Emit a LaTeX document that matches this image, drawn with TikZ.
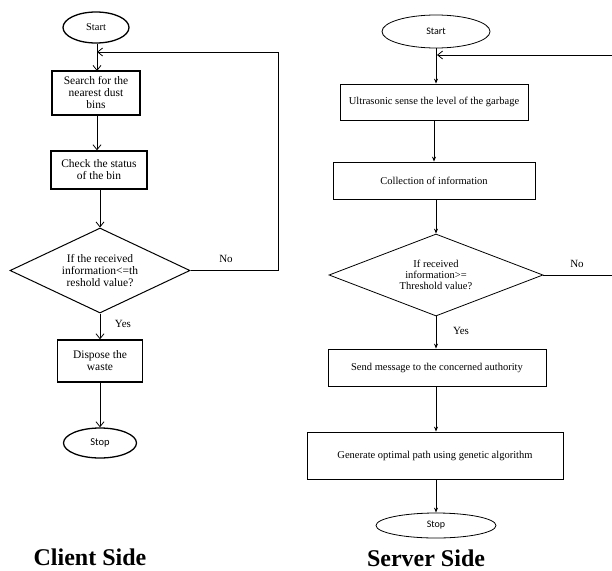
\documentclass[tikz,border=0pt]{standalone}
\usepackage{fontspec}
\setmainfont{Liberation Serif}
\newfontfamily\calib{Carlito}
\usetikzlibrary{shapes.geometric,arrows.meta}
\begin{document}
\begin{tikzpicture}[x=1pt,y=-1pt,
  cbox/.style={draw,line width=1.3pt,rectangle,align=center,inner sep=1pt,font=\fontsize{11.5}{12}\selectfont},
  cterm/.style={draw,line width=1.3pt,ellipse,inner sep=0pt},
  cdia/.style={draw,line width=1pt,diamond,aspect=2.1,inner sep=0pt,align=center,font=\fontsize{11.5}{12}\selectfont},
  sbox/.style={draw,line width=0.8pt,rectangle,align=center,inner sep=1pt,font=\fontsize{10.5}{11}\selectfont},
  sterm/.style={draw,line width=0.8pt,ellipse,inner sep=0pt,font=\calib\fontsize{10}{11}\selectfont},
  sdia/.style={draw,line width=0.8pt,diamond,aspect=2.6,inner sep=0pt,align=center,font=\fontsize{10.5}{11}\selectfont},
  carr/.style={line width=0.8pt,-{Straight Barb[length=5pt,width=8pt]}},
  sarr/.style={line width=1pt,-{Stealth[length=5pt,width=4pt]}},
  lbl/.style={font=\fontsize{11}{12}\selectfont},
  title/.style={font=\bfseries\fontsize{24}{26}\selectfont}]
\useasboundingbox (0,0) rectangle (612,570);

% ---------- Client side ----------
\node[cterm,minimum width=66pt,minimum height=31pt,font=\fontsize{10.5}{11}\selectfont] (cstart) at (96,27.5) {Start};
\node[cbox,minimum width=88pt,minimum height=44pt] (csearch) at (96,93) {Search for the\\nearest dust\\bins};
\node[cbox,minimum width=96pt,minimum height=38pt] (ccheck) at (99,170) {Check the status\\of the bin};
\node[cdia,minimum width=180pt,minimum height=85pt] (cdec) at (100,270.5) {If the received\\information<=th\\reshold value?};
\node[cbox,minimum width=85pt,minimum height=42pt] (cdisp) at (100,361) {Dispose the\\waste};
\node[cterm,minimum width=73pt,minimum height=30pt,font=\calib\fontsize{10.5}{11}\selectfont] (cstop) at (100,443) {Stop};

\coordinate (cR1) at (278,270.5);
\coordinate (cR2) at (278,52);
\coordinate (cJ) at (97,52);

\draw[carr] (cstart.south -| 97,0) -- (97,71);
\draw[carr] (csearch.south -| 97,0) -- (ccheck.north -| 97,0);
\draw[carr] (ccheck.south -| cdec.north) -- (cdec.north);
\draw[carr] (cdec.south) -- (cdisp.north -| cdec.south);
\draw[carr] (cdisp.south) -- (cstop.north);
\draw[carr] (cdec.east) -- (cR1) -- (cR2) -- (cJ);

\node[lbl] (cno) at (226,259) {No};
\node[lbl] (cyes) at (123,324) {Yes};
\node[title] (ctitle) at (90,557) {Client Side};

% ---------- Server side ----------
\node[sterm,minimum width=108pt,minimum height=33pt] (sstart) at (436,31.5) {Start};
\node[sbox,minimum width=188pt,minimum height=36pt] (sultra) at (434,102) {Ultrasonic sense the level of the garbage};
\node[sbox,minimum width=202pt,minimum height=37pt] (scoll) at (434,180.5) {Collection of information};
\node[sdia,minimum width=214pt,minimum height=82pt] (sdec) at (436,275) {If received\\information>=\\Threshold value?};
\node[sbox,minimum width=218pt,minimum height=37pt] (ssend) at (437,367.5) {Send message to the concerned authority};
\node[sbox,minimum width=256pt,minimum height=47pt] (sgen) at (435,455.5) {Generate optimal path using genetic algorithm};
\node[sterm,minimum width=120pt,minimum height=25pt] (sstop) at (436,525.5) {Stop};

\coordinate (sNoEnd) at (612,275);
\coordinate (sLoop) at (612,55);
\coordinate (sJ) at (437,55);

\draw[sarr] (sstart.south -| 436,0) -- (sultra.north -| 436,0);
\draw[sarr] (sultra.south -| 434,0) -- (scoll.north -| 434,0);
\draw[sarr] (scoll.south -| 436,0) -- (sdec.north);
\draw[sarr] (sdec.south) -- (ssend.north -| sdec.south);
\draw[sarr] (ssend.south -| 436,0) -- (sgen.north -| 436,0);
\draw[sarr] (sgen.south -| 436,0) -- (sstop.north);
\draw[line width=0.8pt] (sdec.east) -- (sNoEnd);
\draw[carr] (sLoop) -- (sJ);

\node[lbl] (sno) at (577,264) {No};
\node[lbl] (syes) at (461,331) {Yes};
\node[title] (stitle) at (426,558) {Server Side};
\end{tikzpicture}
\end{document}
